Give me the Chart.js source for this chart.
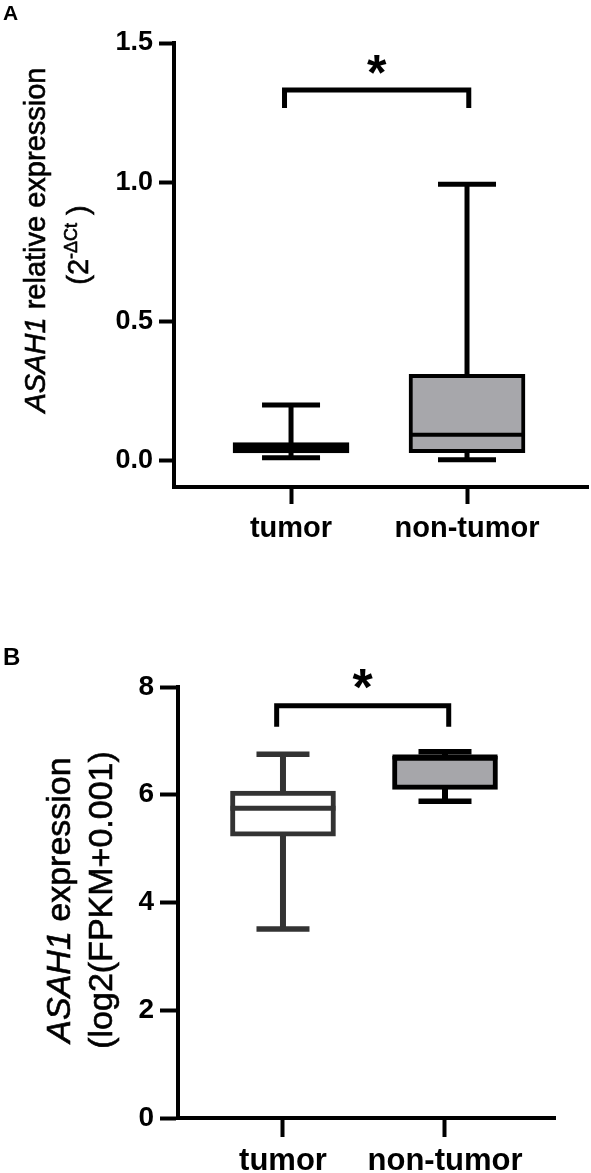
<!DOCTYPE html>
<html lang="en">
<head>
<meta charset="UTF-8">
<title>ASAH1 expression - tumor vs non-tumor</title>
<script src="https://cdn.jsdelivr.net/npm/chart.js"></script>
<style>
  body { margin: 0; background: #fff; }
  canvas { position: absolute; left: 0; }
  #chartA { top: 0; }
  #chartB { top: 560px; }
</style>
</head>
<body>
<canvas id="chartA" width="591" height="560"></canvas>
<canvas id="chartB" width="591" height="613"></canvas>

<script>
const groups = ['tumor', 'non-tumor'];

// A: qPCR, 2^-dCt
const aMin = [0.010, 0.003];
const aQ1 = [0.027, 0.028];
const aMedian = [0.045, 0.093];
const aQ3 = [0.065, 0.310];
const aMax = [0.200, 0.993];
const aTicks = [0, 0.5, 1.0, 1.5];

// B: log2(FPKM+0.001)
const bMin = [3.51, 5.88];
const bQ1 = [5.23, 6.10];
const bMedian = [5.75, 6.70];
const bQ3 = [6.07, 6.72];
const bMax = [6.75, 6.80];
const bTicks = [0, 2, 4, 6, 8];

const FONT = "'Liberation Sans', Arial, Helvetica, sans-serif";

function line(ctx, x1, y1, x2, y2) {
  ctx.beginPath();
  ctx.moveTo(x1, y1);
  ctx.lineTo(x2, y2);
  ctx.stroke();
}

// rotated y title made of text pieces (italic gene name, superscript)
function drawTitle(ctx, parts, baseX, midY) {
  ctx.save();
  let total = 0;
  parts.forEach(p => {
    ctx.font = p.font;
    p.w = ctx.measureText(p.text).width;
    total += p.w;
  });
  ctx.translate(baseX, midY);
  ctx.rotate(-Math.PI / 2);
  ctx.fillStyle = '#000';
  ctx.strokeStyle = '#000';
  ctx.lineWidth = 0.6;
  ctx.textBaseline = 'alphabetic';
  let x = -total / 2;
  parts.forEach(p => {
    ctx.font = p.font;
    ctx.fillText(p.text, x, -(p.rise || 0));
    ctx.strokeText(p.text, x, -(p.rise || 0));
    x += p.w;
  });
  ctx.restore();
}

function boxChart(id, p) {
  const deco = {
    id: 'boxDeco',
    beforeDatasetsDraw(chart) {
      const ctx = chart.ctx, xs = chart.scales.x, ys = chart.scales.y;
      ctx.save();
      ctx.lineCap = 'butt';
      groups.forEach((g, i) => {
        const cx = xs.getPixelForValue(i + 1);
        const yLo = ys.getPixelForValue(p.min[i]);
        const yHi = ys.getPixelForValue(p.max[i]);
        ctx.strokeStyle = p.edge[i];
        ctx.lineWidth = p.whiskerLine;
        line(ctx, cx, yLo, cx, yHi);
        ctx.lineWidth = p.capLine;
        line(ctx, cx - p.capWidth / 2, yLo, cx + p.capWidth / 2, yLo);
        line(ctx, cx - p.capWidth / 2, yHi, cx + p.capWidth / 2, yHi);
      });
      ctx.restore();
    },
    afterDatasetsDraw(chart) {
      const ctx = chart.ctx, ys = chart.scales.y;
      const bars = chart.getDatasetMeta(0).data;
      ctx.save();
      ctx.lineWidth = p.boxLine;
      bars.forEach((el, i) => {
        const ym = ys.getPixelForValue(p.median[i]);
        ctx.strokeStyle = p.edge[i];
        line(ctx, el.x - el.width / 2, ym, el.x + el.width / 2, ym);
      });
      ctx.restore();
    },
    afterDraw(chart) {
      const ctx = chart.ctx, xs = chart.scales.x, ys = chart.scales.y;
      ctx.save();
      // significance bracket
      const x1 = xs.getPixelForValue(p.bracket.from);
      const x2 = xs.getPixelForValue(p.bracket.to);
      const yb = ys.getPixelForValue(p.bracket.y);
      ctx.strokeStyle = '#000';
      ctx.lineWidth = 5;
      ctx.lineJoin = 'miter';
      ctx.beginPath();
      ctx.moveTo(x1, yb + p.bracket.leg);
      ctx.lineTo(x1, yb);
      ctx.lineTo(x2, yb);
      ctx.lineTo(x2, yb + p.bracket.leg);
      ctx.stroke();

      ctx.fillStyle = '#000';
      ctx.font = 'bold ' + p.starSize + 'px ' + FONT;
      ctx.textAlign = 'center';
      ctx.textBaseline = 'alphabetic';
      const m = ctx.measureText('*');
      const cy = yb - p.starGap;
      ctx.fillText('*', (x1 + x2) / 2, cy - (m.actualBoundingBoxDescent - m.actualBoundingBoxAscent) / 2);

      // panel letter
      ctx.textAlign = 'left';
      ctx.font = 'bold ' + p.letter.size + 'px ' + FONT;
      ctx.fillText(p.letter.text, p.letter.x, p.letter.y);
      ctx.restore();

      p.titles.forEach(t => drawTitle(ctx, t.parts, t.x, t.y));
    }
  };

  return new Chart(document.getElementById(id), {
    type: 'bar',
    data: {
      datasets: [{
        data: groups.map((g, i) => ({ x: i + 1, y: [p.q1[i], p.q3[i]] })),
        backgroundColor: p.fill,
        borderColor: p.edge,
        borderWidth: p.boxLine,
        borderSkipped: false,
        barThickness: p.boxWidth
      }]
    },
    options: {
      responsive: false,
      animation: false,
      devicePixelRatio: 1,
      layout: { padding: { top: p.padTop, right: p.padRight, left: 0, bottom: 0 } },
      plugins: { legend: { display: false }, tooltip: { enabled: false } },
      scales: {
        x: {
          type: 'linear',
          min: p.xMin,
          max: p.xMax,
          offset: false,
          afterBuildTicks: s => { s.ticks = groups.map((g, i) => ({ value: i + 1 })); },
          afterFit: s => { s.height = p.xAxisH; },
          ticks: {
            callback: v => groups[v - 1],
            font: { family: FONT, size: p.xFont, weight: 'bold' },
            color: '#000',
            padding: p.xPad,
            maxRotation: 0,
            autoSkip: false
          },
          grid: { offset: false, drawOnChartArea: false, tickLength: p.xTickLen, tickWidth: 4, tickColor: '#000' },
          border: { display: true, width: 4, color: '#000' }
        },
        y: {
          min: p.yMin,
          max: p.yMax,
          afterBuildTicks: s => { s.ticks = p.ticks.map(v => ({ value: v })); },
          afterFit: s => { s.width = p.yAxisW; },
          ticks: {
            callback: v => v.toFixed(p.decimals),
            font: { family: FONT, size: p.yFont, weight: 'bold' },
            color: '#000',
            padding: 6
          },
          grid: { drawOnChartArea: false, tickLength: p.yTickLen, tickWidth: 4, tickColor: '#000' },
          border: { display: true, width: 4, color: '#000' }
        }
      }
    },
    plugins: [deco]
  });
}

const it = s => 'italic ' + s + 'px ' + FONT;
const rg = s => s + 'px ' + FONT;

boxChart('chartA', {
  min: aMin, q1: aQ1, median: aMedian, q3: aQ3, max: aMax, ticks: aTicks,
  yMin: -0.095, yMax: 1.5, decimals: 1,
  xMin: 0.335, xMax: 2.6875,
  padTop: 43, padRight: 3, xAxisH: 73, yAxisW: 174,
  xFont: 29, yFont: 27, xPad: 8, xTickLen: 17, yTickLen: 15,
  fill: ['#000000', '#a7a7ab'], edge: ['#000000', '#000000'],
  boxLine: 4, boxWidth: 116, whiskerLine: 5, capLine: 5, capWidth: 58,
  bracket: { from: 0.963, to: 2.01, y: 1.331, leg: 18 },
  starSize: 50, starGap: 26,
  letter: { text: 'A', size: 21, x: 3, y: 20 },
  titles: [
    { x: 45, y: 240, parts: [{ text: 'ASAH1', font: it(29) }, { text: ' relative expression', font: rg(29) }] },
    { x: 88, y: 245, parts: [{ text: '(2', font: rg(29) }, { text: '-ΔCt', font: rg(18), rise: 11 }, { text: ' )', font: rg(29) }] }
  ]
});

boxChart('chartB', {
  min: bMin, q1: bQ1, median: bMedian, q3: bQ3, max: bMax, ticks: bTicks,
  yMin: 0, yMax: 8, decimals: 0,
  xMin: 0.352, xMax: 2.679,
  padTop: 127, padRight: 36, xAxisH: 55, yAxisW: 178,
  xFont: 31, yFont: 28, xPad: 6, xTickLen: 19, yTickLen: 18,
  fill: ['#ffffff', '#a6a6aa'], edge: ['#333333', '#000000'],
  boxLine: 5, boxWidth: 105, whiskerLine: 6, capLine: 5.5, capWidth: 53,
  bracket: { from: 0.961, to: 2.023, y: 7.65, leg: 21 },
  starSize: 52, starGap: 27,
  letter: { text: 'B', size: 24, x: 3, y: 105 },
  titles: [
    { x: 70, y: 340, parts: [{ text: 'ASAH1', font: it(34) }, { text: ' expression', font: rg(34) }] },
    { x: 112, y: 340, parts: [{ text: '(log2(FPKM+0.001)', font: rg(34) }] }
  ]
});
</script>
</body>
</html>
